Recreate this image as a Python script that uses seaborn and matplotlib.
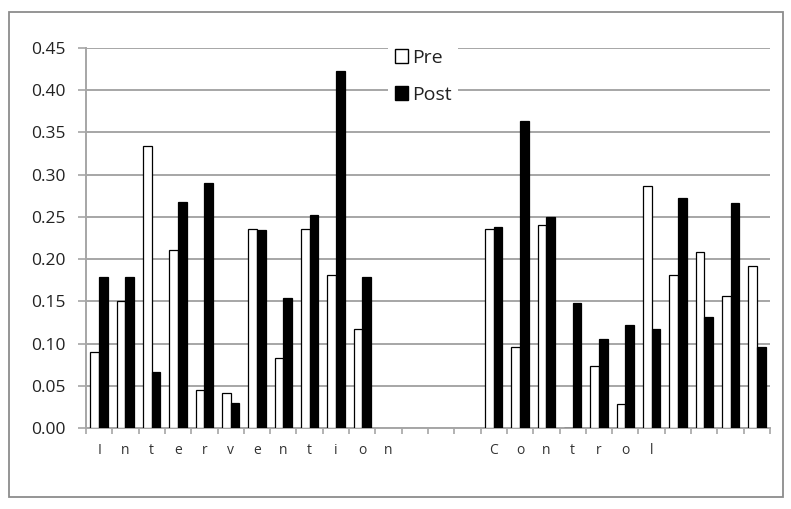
import matplotlib
matplotlib.use("Agg")
import matplotlib.pyplot as plt
import seaborn as sns
import pandas as pd
import numpy as np
from matplotlib.patches import Rectangle, Patch

# ---- data ----
slot_labels = ["I", "n", "t", "e", "r", "v", "e", "n", "t", "i", "o", "n",
               "", "", "",
               "C", "o", "n", "t", "r", "o", "l", "", "", "", ""]
intervention_slots = list(range(0, 11))
control_slots = list(range(15, 26))
intervention_pre = [0.090, 0.150, 0.334, 0.211, 0.045, 0.042, 0.236, 0.083, 0.236, 0.181, 0.117]
intervention_post = [0.179, 0.179, 0.066, 0.268, 0.290, 0.030, 0.234, 0.154, 0.252, 0.423, 0.179]
control_pre = [0.236, 0.096, 0.240, 0.0, 0.073, 0.029, 0.286, 0.181, 0.208, 0.156, 0.192]
control_post = [0.238, 0.363, 0.250, 0.148, 0.105, 0.122, 0.117, 0.272, 0.131, 0.266, 0.096]
series = ["Pre", "Post"]
yticks = [0.00, 0.05, 0.10, 0.15, 0.20, 0.25, 0.30, 0.35, 0.40, 0.45]

rows = []
for slots, pre, post in [(intervention_slots, intervention_pre, intervention_post),
                         (control_slots, control_pre, control_post)]:
    for s, a, b in zip(slots, pre, post):
        rows.append({"slot": f"s{s}", "series": "Pre", "value": a})
        rows.append({"slot": f"s{s}", "series": "Post", "value": b})
df = pd.DataFrame(rows)
order = [f"s{i}" for i in range(len(slot_labels))]

sns.set_style("white")
plt.rcParams["font.family"] = ["Open Sans", "DejaVu Sans"]

fig = plt.figure(figsize=(7.91, 5.09), dpi=100)
ax = fig.add_axes([86 / 791, 1 - 428 / 509, (770 - 86) / 791, (428 - 48) / 509])

sns.barplot(data=df, x="slot", y="value", hue="series", order=order,
            hue_order=series, palette={"Pre": "white", "Post": "black"},
            width=0.66, edgecolor="black", linewidth=0.9, ax=ax,
            legend=False, errorbar=None, zorder=3)

ax.set_ylim(0, 0.45)
ax.set_xlim(-0.5, len(slot_labels) - 0.5)
ax.set_yticks(yticks)
ax.set_yticklabels([f"{v:.2f}" for v in yticks], fontsize=12.5, color="#222222")
ax.yaxis.grid(True, color="#a6a6a6", linewidth=1.4, zorder=0)
ax.set_axisbelow(True)

# x: boundary ticks (major) and letter labels at centers (minor)
ax.set_xticks(np.arange(-0.5, len(slot_labels), 1.0))
ax.set_xticklabels([])
ax.set_xticks(np.arange(len(slot_labels)), minor=True)
ax.set_xticklabels(slot_labels, minor=True, fontsize=10, color="#333333")
ax.tick_params(axis="x", which="major", direction="out", length=4, width=1.2,
               color="#a6a6a6", bottom=True)
ax.tick_params(axis="x", which="minor", length=0, pad=11)
ax.tick_params(axis="y", direction="out", length=6, width=1.2, color="#a6a6a6",
               left=True, pad=9)
ax.set_xlabel("")
ax.set_ylabel("")

for side in ["top", "right"]:
    ax.spines[side].set_visible(False)
for side in ["left", "bottom"]:
    ax.spines[side].set_color("#a6a6a6")
    ax.spines[side].set_linewidth(1.4)

handles = [Patch(facecolor="white", edgecolor="black", linewidth=1.0, label="Pre"),
           Patch(facecolor="black", edgecolor="black", label="Post")]
leg = fig.legend(handles=handles, loc="upper left",
                 bbox_to_anchor=(378 / 791, 1 - 32 / 509),
                 frameon=True, fontsize=14, handlelength=0.7, handleheight=0.7,
                 handletextpad=0.2, labelspacing=1.0, borderpad=0.35)
leg.get_frame().set_facecolor("white")
leg.get_frame().set_edgecolor("none")
leg.get_frame().set_alpha(1.0)
for t in leg.get_texts():
    t.set_color("#222222")

fig.patches.append(Rectangle((9 / 791, 1 - 497 / 509), (783 - 9) / 791, (497 - 12) / 509,
                             transform=fig.transFigure, fill=False,
                             edgecolor="#8c8c8c", linewidth=1.3))

fig.savefig("out.png", dpi=100)
